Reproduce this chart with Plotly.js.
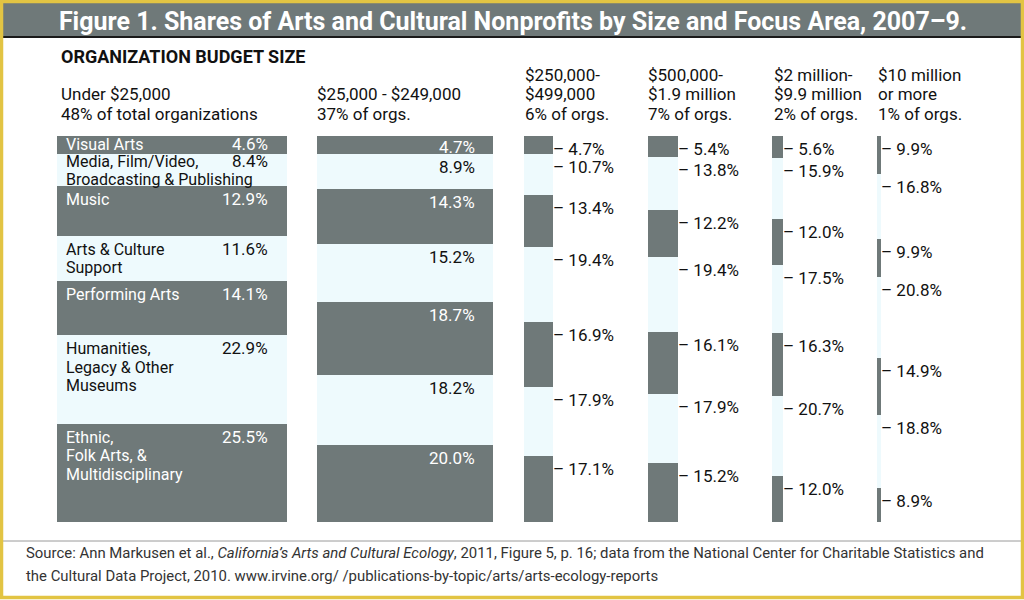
<!DOCTYPE html>
<html>
<head>
<meta charset="utf-8">
<script src="https://cdn.plot.ly/plotly-3.0.1.min.js"></script>
<style>
  html, body { margin: 0; padding: 0; background: #ffffff; }
  #chart { width: 1024px; height: 600px; }
</style>
</head>
<body>
<div id="chart"></div>
<script>
// ---------------- DATA ----------------
const focusAreas = [
  'Visual Arts',
  'Media, Film/Video,<br>Broadcasting & Publishing',
  'Music',
  'Arts & Culture<br>Support',
  'Performing Arts',
  'Humanities,<br>Legacy & Other<br>Museums',
  'Ethnic,<br>Folk Arts, &<br>Multidisciplinary'
];
const budgetLabels = [
  'Under $25,000<br>48% of total organizations',
  '$25,000 - $249,000<br>37% of orgs.',
  '$250,000-<br>$499,000<br>6% of orgs.',
  '$500,000-<br>$1.9 million<br>7% of orgs.',
  '$2 million-<br>$9.9 million<br>2% of orgs.',
  '$10 million<br>or more<br>1% of orgs.'
];
const under25k      = [4.6, 8.4, 12.9, 11.6, 14.1, 22.9, 25.5];
const from25kTo249k = [4.7, 8.9, 14.3, 15.2, 18.7, 18.2, 20.0];
const from250kTo499k= [4.7, 10.7, 13.4, 19.4, 16.9, 17.9, 17.1];
const from500kTo1_9m= [5.4, 13.8, 12.2, 19.4, 16.1, 17.9, 15.2];
const from2mTo9_9m  = [5.6, 15.9, 12.0, 17.5, 16.3, 20.7, 12.0];
const over10m       = [9.9, 16.8, 9.9, 20.8, 14.9, 18.8, 8.9];
const titleText = 'Figure 1. Shares of Arts and Cultural Nonprofits by Size and Focus Area, 2007–9.';
const subTitle = 'ORGANIZATION BUDGET SIZE';
const sourceLine1 = 'Source: Ann Markusen et al., <i>California’s Arts and Cultural Ecology</i>, 2011, Figure 5, p. 16; data from the National Center for Charitable Statistics and';
const sourceLine2 = 'the Cultural Data Project, 2010. www.irvine.org/ /publications-by-topic/arts/arts-ecology-reports';

// ---------------- LAYOUT CONSTANTS ----------------
const W = 1024, H = 600;
const DARK = '#6f7979', LIGHT = '#eefafd', GOLD = '#e2c443';
const FONT = 'Roboto, "Open Sans", sans-serif';
const colLeft  = [57, 317, 524, 648, 772, 877];
const colRight = [287, 493, 553, 677.5, 783, 881];
const barTop = 136, barBottom = 522;
const LINE = 18.5;
const col1Nudge = [3, 4, -2, -2, -2, -2, -2];
const col2Nudge = [0, -2, -2, -2, -2, -2, -2];

const columns = [under25k, from25kTo249k, from250kTo499k, from500kTo1_9m, from2mTo9_9m, over10m];
const centers = colLeft.map((l, i) => (l + colRight[i]) / 2);
const widths = colLeft.map((l, i) => colRight[i] - l);
const py = p => 1 - p / H;

// ---------------- TRACES ----------------
const traces = focusAreas.map((name, r) => ({
  type: 'bar',
  name: name.replace(/<br>/g, ' '),
  x: centers,
  width: widths,
  y: columns.map(col => col[r]),
  marker: { color: r % 2 === 0 ? DARK : LIGHT, line: { width: 0 } },
  hoverinfo: 'skip',
  showlegend: false
}));

// cumulative starts
const starts = columns.map(col => {
  let acc = 0;
  return col.map(v => { const s = acc; acc += v; return s; });
});

const pct = v => v.toFixed(1) + '%';
const annotations = [];

// column 1 & 2 labels
focusAreas.forEach((name, r) => {
  const color = r % 2 === 0 ? '#ffffff' : '#111111';
  name.split('<br>').forEach((line, k) => {
    annotations.push({
      xref: 'x', yref: 'y', x: colLeft[0] + 7, y: starts[0][r], xanchor: 'left', yanchor: 'top',
      yshift: col1Nudge[r] - k * LINE, text: line, showarrow: false, align: 'left',
      font: { family: FONT, size: 16, color: color }
    });
  });
  annotations.push({
    xref: 'x', yref: 'y', x: colRight[0] - 17, y: starts[0][r], xanchor: 'right', yanchor: 'top',
    yshift: col1Nudge[r] + 1, text: pct(under25k[r]), showarrow: false,
    font: { family: FONT, size: 17, color: color }
  });
  annotations.push({
    xref: 'x', yref: 'y', x: colRight[1] - 16, y: starts[1][r], xanchor: 'right', yanchor: 'top',
    yshift: col2Nudge[r] + 1, text: pct(from25kTo249k[r]), showarrow: false,
    font: { family: FONT, size: 17, color: color }
  });
});
// columns 3-6: tick labels outside
for (let c = 2; c < 6; c++) {
  columns[c].forEach((v, r) => {
    annotations.push({
      xref: 'x', yref: 'y', x: colRight[c], y: starts[c][r], xanchor: 'left', yanchor: 'top',
      xshift: -2, yshift: -1, text: '– ' + pct(v), showarrow: false,
      font: { family: FONT, size: 17, color: '#111111' }
    });
  });
}
// column headers (bottom-aligned, explicit line spacing)
const headerX = [59, 315, 523, 646, 772, 876];
budgetLabels.forEach((t, c) => {
  const lines = t.split('<br>');
  lines.forEach((line, k) => {
    const centerY = 114 - (lines.length - 1 - k) * 19.5;
    annotations.push({
      xref: 'x', yref: 'paper', x: headerX[c], y: py(centerY), xanchor: 'left', yanchor: 'middle',
      text: line, showarrow: false, align: 'left',
      font: { family: FONT, size: 17, color: '#111111' }
    });
  });
});
// subtitle
annotations.push({
  xref: 'x', yref: 'paper', x: 59, y: py(57), xanchor: 'left', yanchor: 'middle',
  text: '<b>' + subTitle + '</b>', showarrow: false,
  font: { family: FONT, size: 18, color: '#111111' }
});
// source
annotations.push({
  xref: 'x', yref: 'paper', x: 24, y: py(553), xanchor: 'left', yanchor: 'middle',
  text: sourceLine1, showarrow: false, font: { family: FONT, size: 14.9, color: '#333333' }
});
annotations.push({
  xref: 'x', yref: 'paper', x: 24, y: py(576), xanchor: 'left', yanchor: 'middle',
  text: sourceLine2, showarrow: false, font: { family: FONT, size: 14.9, color: '#333333' }
});

const shapes = [
  // title bar
  { type: 'rect', xref: 'paper', yref: 'paper', x0: 3 / W, x1: 1021 / W, y0: py(36), y1: py(3),
    fillcolor: DARK, line: { width: 0 }, layer: 'below' },
  { type: 'line', xref: 'paper', yref: 'paper', x0: 3 / W, x1: 1021 / W, y0: py(37), y1: py(37),
    line: { color: '#1a1a1a', width: 2 } },
  // footer separator
  { type: 'line', xref: 'paper', yref: 'paper', x0: 3 / W, x1: 1021 / W, y0: py(541), y1: py(541),
    line: { color: '#9a9a9a', width: 1 } },
  // gold frame
  { type: 'rect', xref: 'paper', yref: 'paper', x0: 1.5 / W, x1: 1022.5 / W, y0: py(597.5), y1: py(1.5),
    line: { color: GOLD, width: 3.5 }, fillcolor: 'rgba(0,0,0,0)' }
];

const layout = {
  width: W, height: H,
  margin: { l: 0, r: 0, t: 0, b: 0, pad: 0 },
  paper_bgcolor: '#ffffff', plot_bgcolor: '#ffffff',
  barmode: 'stack', bargap: 0,
  title: {
    text: '<b>' + titleText + '</b>',
    x: 513 / W, xanchor: 'center', y: py(21), yanchor: 'middle', yref: 'container',
    font: { family: FONT, size: 25, color: '#ffffff' }
  },
  xaxis: { range: [0, W], domain: [0, 1], visible: false, fixedrange: true },
  yaxis: { range: [100, 0], domain: [py(barBottom), py(barTop)], visible: false, fixedrange: true },
  shapes: shapes,
  annotations: annotations,
  showlegend: false
};

Plotly.newPlot('chart', traces, layout, { displayModeBar: false, staticPlot: true });
</script>
</body>
</html>
